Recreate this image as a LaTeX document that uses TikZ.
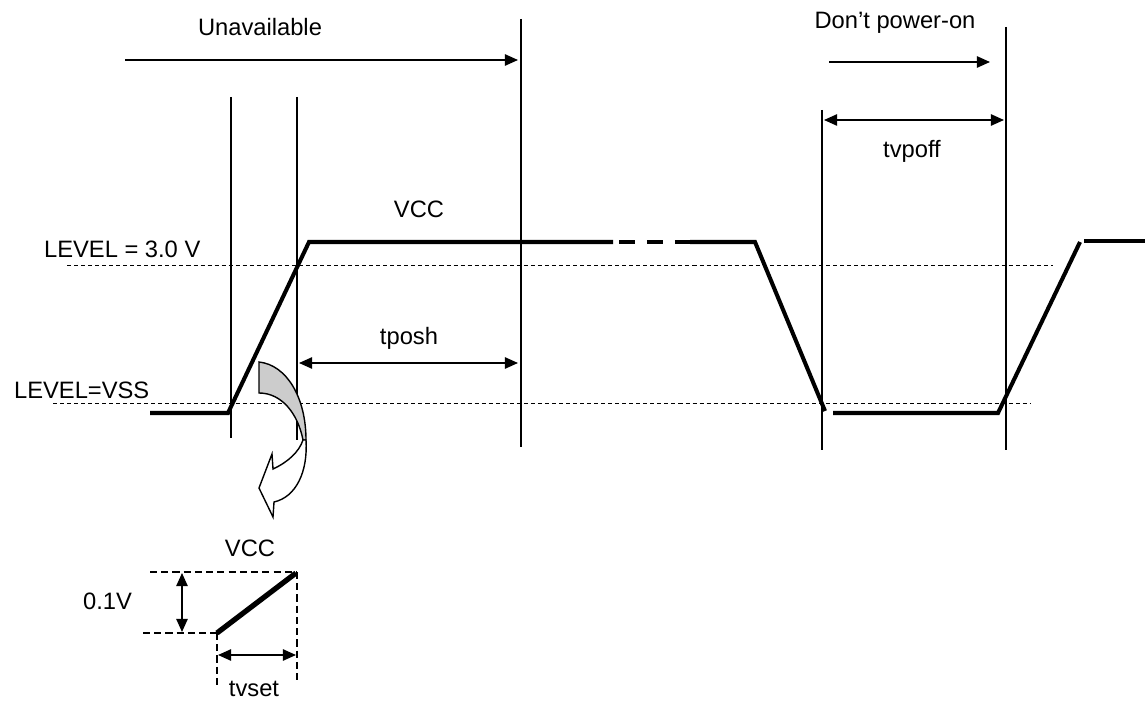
\documentclass[tikz,border=0pt]{standalone}
\usepackage{fontspec}
\setmainfont{Liberation Sans}
\usetikzlibrary{arrows.meta}

\tikzset{
  sig/.style={line width=2.3pt},
  guide/.style={line width=0.6pt},
  lvl/.style={line width=0.5pt, dash pattern=on 2.3pt off 1.7pt},
  ins/.style={line width=0.6pt, dash pattern=on 4pt off 2.4pt},
  dim/.style={line width=0.9pt, -{Triangle[length=7.5pt, width=6.5pt]}},
  dimb/.style={line width=0.9pt, {Triangle[length=7.5pt, width=6.5pt]}-{Triangle[length=7.5pt, width=6.5pt]}},
  lbl/.style={font=\fontsize{13.5}{16}\selectfont, inner sep=1pt}
}

\begin{document}
\begin{tikzpicture}[x=0.02cm, y=-0.02cm]
  \useasboundingbox (0,0) rectangle (1145,702);
  % guide lines
  \draw[guide] (231,97) -- (231,438);
  \draw[guide] (297,97) -- (297,440);
  \draw[guide] (521,19) -- (521,447);
  \draw[guide] (822,110) -- (822,450);
  \draw[guide] (1006,27) -- (1006,450);
  % levels
  \draw[lvl] (67,265) -- (1053,265);
  \draw[lvl] (53,403) -- (1030,403);
  \node[lbl, anchor=base west] (lvlhi) at (42,258) {LEVEL = 3.0 V};
  \node[lbl, anchor=base west] (lvllo) at (12,398) {LEVEL=VSS};
  % signal
  \draw[sig] (150,413) -- (228,413) -- (309,242) -- (613,242);
  \draw[sig, dash pattern=on 9.1pt off 6.8pt] (619,242) -- (691,242);
  \draw[sig] (690,242) -- (755,242) -- (825,411);
  \draw[sig] (833,413) -- (998,413) -- (1080,242);
  \draw[sig] (1084,241) -- (1145,241);
  \node[lbl] (vcc) at (419,209) {VCC};
  % arrows
  \node[lbl] (unav) at (260,27) {Unavailable};
  \draw[dim] (125,60) -- (518,60);
  \node[lbl] (dpo) at (895,23) {Don’t power-on};
  \draw[dim] (829,62) -- (990,62);
  \draw[dimb] (824,120) -- (1004,120);
  \node[lbl] (tvpoff) at (912,151) {tvpoff};
  \draw[dimb] (299,363) -- (518,363);
  \node[lbl] (tposh) at (409,338) {tposh};
  % curved arrow
  \draw[line width=0.8pt, fill=black!20] (259,362) .. controls (287,365) and (306,398) .. (306,440)
    -- (303,440) .. controls (298,414) and (282,393) .. (259,393) -- cycle;
  \draw[line width=0.8pt, fill=white] (306,440) .. controls (308,472) and (296,497) .. (274,502)
    -- (273,517) -- (259,488) -- (272,454) -- (273,469)
    .. controls (288,462) and (299,452) .. (303,440) -- cycle;
  % inset
  \node[lbl] (vccins) at (250,548) {VCC};
  \draw[ins] (150,572) -- (297,572);
  \draw[ins] (143,633) -- (217,633);
  \draw[ins] (217,633) -- (217,686);
  \draw[ins] (297,572) -- (297,684);
  \draw[line width=3pt] (217,633) -- (296,573);
  \draw[dimb] (182,573) -- (182,632);
  \draw[dimb] (218,655) -- (296,655);
  \node[lbl, anchor=east] (dv) at (134,601) {0.1V};
  \node[lbl] (tvset) at (254,689) {tvset};
\end{tikzpicture}
\end{document}
